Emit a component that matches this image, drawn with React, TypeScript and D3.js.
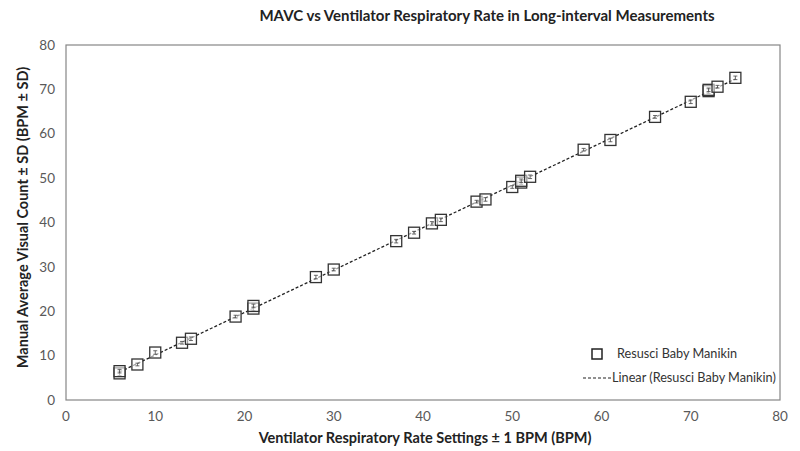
import { scaleLinear, line as d3Line } from "d3";

const settings = [6, 6, 8, 10, 13, 14, 19, 21, 21, 28, 30, 37, 39, 41, 42, 46, 47, 50, 51, 51, 52, 58, 61, 66, 70, 72, 72, 73, 75];
const counts = [6.0, 6.5, 8.0, 10.7, 12.9, 13.8, 18.8, 20.6, 21.2, 27.7, 29.4, 35.8, 37.7, 39.8, 40.6, 44.7, 45.2, 48.0, 49.0, 49.4, 50.3, 56.4, 58.6, 63.8, 67.2, 69.6, 69.9, 70.6, 72.6];
const sds = [0.5, 0.4, 0.3, 0.4, 0.3, 0.4, 0.3, 0.5, 0.4, 0.4, 0.3, 0.4, 0.3, 0.4, 0.4, 0.3, 0.4, 0.3, 0.4, 0.4, 0.4, 0.3, 0.4, 0.3, 0.4, 0.5, 0.4, 0.3, 0.4];
const xTickValues = [0, 10, 20, 30, 40, 50, 60, 70, 80];
const yTickValues = [0, 10, 20, 30, 40, 50, 60, 70, 80];

const title = "MAVC vs Ventilator Respiratory Rate in Long-interval Measurements";
const xLabel = "Ventilator Respiratory Rate Settings \u00b1 1 BPM (BPM)";
const yLabel = "Manual Average Visual Count \u00b1 SD (BPM \u00b1 SD)";
const seriesName = "Resusci Baby Manikin";

const font = "Lato, 'Liberation Sans', sans-serif";

export default function App() {
  const margin = { top: 45, right: 20, bottom: 51, left: 66 };
  const width = 800 - margin.left - margin.right;
  const height = 451 - margin.top - margin.bottom;

  const x = scaleLinear().domain([0, 80]).range([0, width]);
  const y = scaleLinear().domain([0, 80]).range([height, 0]);

  // least squares trendline, like the spreadsheet "Linear" fit
  const n = settings.length;
  const mx = settings.reduce((a, b) => a + b, 0) / n;
  const my = counts.reduce((a, b) => a + b, 0) / n;
  let sxy = 0;
  let sxx = 0;
  settings.forEach((s, i) => {
    sxy += (s - mx) * (counts[i] - my);
    sxx += (s - mx) * (s - mx);
  });
  const slope = sxy / sxx;
  const intercept = my - slope * mx;
  const xMin = Math.min(...settings);
  const xMax = Math.max(...settings);
  const trend = d3Line<number>()
    .x((d) => x(d))
    .y((d) => y(intercept + slope * d))([xMin, xMax]) ?? "";

  const sq = 11;

  return (
    <svg width={800} height={451} style={{ position: "absolute", left: 0, top: 0, background: "#fff" }}>
      <text x={487} y={21} textAnchor="middle" fontFamily={font} fontWeight="bold" fontSize={15} fill="#222">
        {title}
      </text>

      <g transform={`translate(${margin.left},${margin.top})`}>
        <rect x={0} y={0} width={width} height={height} fill="none" stroke="#868686" strokeWidth={1.2} />

        {yTickValues.map((t) => (
          <text key={`y${t}`} x={-11} y={y(t)} dy="0.35em" textAnchor="end" fontFamily={font} fontSize={13.5} fill="#595959">
            {t}
          </text>
        ))}
        {xTickValues.map((t) => (
          <text key={`x${t}`} x={x(t)} y={height + 21} textAnchor="middle" fontFamily={font} fontSize={13.5} fill="#595959">
            {t}
          </text>
        ))}

        <path d={trend} fill="none" stroke="#222" strokeWidth={1.3} strokeDasharray="3,2" />

        {settings.map((s, i) => {
          const cx = x(s);
          const cy = y(counts[i]);
          return (
            <g key={`p${i}`}>
              <rect x={cx - sq / 2} y={cy - sq / 2} width={sq} height={sq} fill="rgba(255,255,255,0.55)" stroke="#333" strokeWidth={1.3} />
              <line x1={cx} x2={cx} y1={y(counts[i] - sds[i])} y2={y(counts[i] + sds[i])} stroke="#444" strokeWidth={0.8} />
              <line x1={cx - 2} x2={cx + 2} y1={y(counts[i] + sds[i])} y2={y(counts[i] + sds[i])} stroke="#444" strokeWidth={0.8} />
              <line x1={cx - 2} x2={cx + 2} y1={y(counts[i] - sds[i])} y2={y(counts[i] - sds[i])} stroke="#444" strokeWidth={0.8} />
            </g>
          );
        })}
      </g>

      <text x={425} y={443} textAnchor="middle" fontFamily={font} fontWeight="bold" fontSize={14.5} fill="#222">
        {xLabel}
      </text>
      <text transform={`translate(28,${margin.top + height / 2 - 5}) rotate(-90)`} textAnchor="middle" fontFamily={font} fontWeight="bold" fontSize={14.5} fill="#222">
        {yLabel}
      </text>

      <g fontFamily={font} fontSize={12.7} fill="#333">
        <rect x={592} y={349} width={10} height={10} fill="#fff" stroke="#222" strokeWidth={1.5} />
        <text x={617} y={358}>{seriesName}</text>
        <line x1={583} x2={611} y1={378} y2={378} stroke="#222" strokeWidth={1.2} strokeDasharray="3,2" />
        <text x={612} y={382}>{`Linear (${seriesName})`}</text>
      </g>
    </svg>
  );
}
